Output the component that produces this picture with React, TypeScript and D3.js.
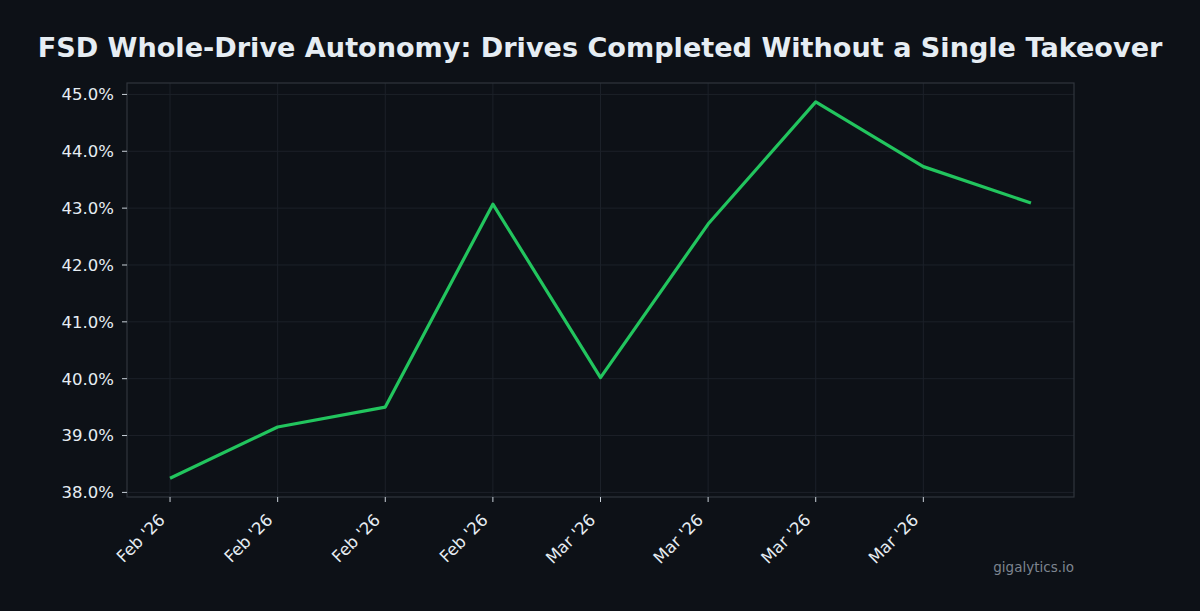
import { useEffect, useRef } from 'react';
import * as d3 from 'd3';

const title = 'FSD Whole-Drive Autonomy: Drives Completed Without a Single Takeover';
const values = [38.25, 39.15, 39.5, 43.07, 40.02, 42.72, 44.87, 43.73, 43.09];
const tickLabels = ["Feb '26", "Feb '26", "Feb '26", "Feb '26", "Mar '26", "Mar '26", "Mar '26", "Mar '26"];
const yTicks = [38, 39, 40, 41, 42, 43, 44, 45];
const watermark = 'gigalytics.io';

export default function App() {
	const svgRef = useRef<SVGSVGElement | null>(null);

	useEffect(() => {
		if (!svgRef.current) return;
		const width = 1200;
		const height = 611;
		const margin = { top: 83, right: 126, bottom: 114, left: 127 };
		const font = '"DejaVu Sans", sans-serif';

		const svg = d3.select(svgRef.current).attr('width', width).attr('height', height);
		svg.selectAll('*').remove();

		svg.append('rect').attr('width', width).attr('height', height).attr('fill', '#0d1117');

		// matplotlib-style 5% margins
		const n = values.length - 1;
		const x = d3
			.scaleLinear()
			.domain([-0.05 * n, n * 1.05])
			.range([margin.left, width - margin.right]);
		const [vmin, vmax] = d3.extent(values) as [number, number];
		const pad = (vmax - vmin) * 0.05;
		const y = d3
			.scaleLinear()
			.domain([vmin - pad, vmax + pad])
			.range([height - margin.bottom, margin.top]);

		// Grid
		const grid = svg.append('g').attr('stroke', '#1c2129').attr('stroke-width', 1);
		tickLabels.forEach((_, i) => {
			grid.append('line')
				.attr('x1', x(i)).attr('x2', x(i))
				.attr('y1', margin.top).attr('y2', height - margin.bottom);
		});
		yTicks.forEach((t) => {
			grid.append('line')
				.attr('x1', margin.left).attr('x2', width - margin.right)
				.attr('y1', y(t)).attr('y2', y(t));
		});

		// Frame
		svg.append('rect')
			.attr('x', margin.left).attr('y', margin.top)
			.attr('width', width - margin.left - margin.right)
			.attr('height', height - margin.top - margin.bottom)
			.attr('fill', 'none').attr('stroke', '#30363d').attr('stroke-width', 1.2);

		// Y axis
		const yAxis = svg.append('g');
		yTicks.forEach((t) => {
			yAxis.append('line')
				.attr('x1', margin.left - 5).attr('x2', margin.left)
				.attr('y1', y(t)).attr('y2', y(t))
				.attr('stroke', '#c9d1d9').attr('stroke-width', 1);
			yAxis.append('text')
				.attr('x', margin.left - 13).attr('y', y(t))
				.attr('dy', '0.36em')
				.attr('text-anchor', 'end')
				.attr('font-family', font).attr('font-size', 16.5)
				.attr('fill', '#e6edf3')
				.text(`${t.toFixed(1)}%`);
		});

		// X axis
		const xAxis = svg.append('g');
		const axisY = height - margin.bottom;
		tickLabels.forEach((lab, i) => {
			xAxis.append('line')
				.attr('x1', x(i)).attr('x2', x(i))
				.attr('y1', axisY).attr('y2', axisY + 5)
				.attr('stroke', '#c9d1d9').attr('stroke-width', 1);
			xAxis.append('text')
				.attr('transform', `translate(${x(i) - 4},${axisY + 24}) rotate(-45)`)
				.attr('text-anchor', 'end')
				.attr('font-family', font).attr('font-size', 16.5)
				.attr('fill', '#e6edf3')
				.text(lab);
		});

		// Line
		const line = d3
			.line<number>()
			.x((_, i) => x(i))
			.y((d) => y(d));
		svg.append('path')
			.datum(values)
			.attr('d', line)
			.attr('fill', 'none')
			.attr('stroke', '#22c55e')
			.attr('stroke-width', 3.2)
			.attr('stroke-linejoin', 'round');

		// Title
		svg.append('text')
			.attr('x', width / 2).attr('y', 57)
			.attr('text-anchor', 'middle')
			.attr('font-family', font).attr('font-weight', 'bold').attr('font-size', 27.1)
			.attr('fill', '#e6edf3')
			.text(title);

		// Watermark
		svg.append('text')
			.attr('x', width - margin.right).attr('y', 572)
			.attr('text-anchor', 'end')
			.attr('font-family', font).attr('font-size', 13.5)
			.attr('fill', '#7d8590')
			.text(watermark);
	}, []);

	return <svg ref={svgRef} style={{ display: 'block', position: 'absolute', left: 0, top: 0 }} />;
}
